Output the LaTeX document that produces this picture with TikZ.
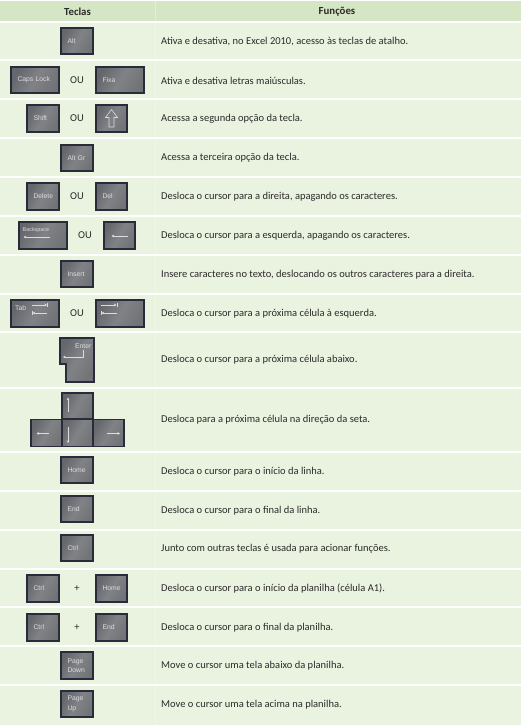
\documentclass[tikz,border=0pt]{standalone}
\usepackage{fontspec}
\setmainfont{Carlito}
\newfontfamily\keyfont{Liberation Sans}
\usetikzlibrary{arrows.meta}
\definecolor{hdr}{HTML}{D4E6C3}
\definecolor{rowc}{HTML}{EAF2E0}
\definecolor{txt}{HTML}{2B2B2B}
\definecolor{keyA}{HTML}{65676C}
\definecolor{keyB}{HTML}{808286}
\definecolor{keyC}{HTML}{717377}
\definecolor{keyD}{HTML}{282C38}
\definecolor{keyL}{HTML}{DCDCDC}
\begin{document}
\begin{tikzpicture}[x=1pt,y=-1pt,
  keyshade/.style={draw=keyD, line width=1.2pt, left color=keyA, right color=keyC, middle color=keyB, shading angle=60},
  key/.style={keyshade, rectangle, inner xsep=6.5pt, inner ysep=0pt, align=left,
    font=\keyfont\fontsize{6.8}{9.5}\selectfont, text=keyL},
  kw32/.style={key, minimum width=32pt, text width=19pt},
  kw31/.style={key, minimum width=31pt, text width=18pt},
  kw48/.style={key, minimum width=48pt, text width=35pt},
  kh26/.style={minimum height=26pt},
  kh27/.style={minimum height=27pt},
  fn/.style={anchor=west, inner sep=0pt, text=txt, font=\fontsize{10.5}{12}\selectfont},
  hd/.style={inner sep=0pt, text=txt, font=\bfseries\fontsize{10.8}{12}\selectfont},
  ou/.style={inner sep=0pt, text=txt, font=\fontsize{10.5}{12}\selectfont},
  glyph/.style={draw=keyL, line width=0.7pt},
  garrow/.style={glyph, -{Stealth[length=2.6pt,width=2.6pt]}},
  lbl/.style={inner sep=0pt, text=keyL, font=\keyfont\fontsize{6.8}{8}\selectfont}
]
\useasboundingbox (0,0) rectangle (521,725);
\fill[white] (0,0) rectangle (521,725);
% header and rows
\fill[hdr] (0,1.5) rectangle (521,21.2);
\foreach \a/\b in {22/60.5, 60.5/99, 99/138, 138/177, 177/216, 216/255, 255/293.5, 293.5/332, 332/388, 388/452, 452/491, 491/530, 530/568.5, 568.5/607, 607/646, 646/685}
  \fill[rowc] (0,\a+1) rectangle (521,\b-1);
\fill[rowc] (0,686) rectangle (521,725);
\draw[white, opacity=0.35, line width=0.6pt] (155,0) -- (155,725);

\node[hd] (h1) at (77.5,12) {Teclas};
\node[hd] (h2) at (337,12) {Funções};

% row 1
\node[kw32,kh26] (alt) at (77,41) {Alt};
\node[fn] (t1) at (161,41.5) {Ativa e desativa, no Excel 2010, acesso às teclas de atalho.};
% row 2
\node[kw48,kh26] (caps) at (35,80) {Caps Lock};
\node[ou] (ou2) at (77,80) {OU};
\node[kw48,kh26] (fixa) at (120,80) {Fixa};
\node[fn] (t2) at (161,80.5) {Ativa e desativa letras maiúsculas.};
% row 3
\node[kw32,kh27] (shift) at (43,118.5) {Shift};
\node[ou] (ou3) at (77,118.5) {OU};
\node[kw31,kh27] (shiftb) at (111.5,118.5) {};
\draw[draw=keyL, line width=0.6pt, line join=miter] (111.5,109.5) -- (117.5,117.5) -- (114,117.5) -- (114,127) -- (109,127) -- (109,117.5) -- (105.5,117.5) -- cycle;
\node[fn] (t3) at (161,119) {Acessa a segunda opção da tecla.};
% row 4
\node[kw32,kh26] (altgr) at (77,158) {Alt Gr};
\node[fn] (t4) at (161,158) {Acessa a terceira opção da tecla.};
% row 5
\node[kw32,kh27] (delete) at (43,196.5) {Delete};
\node[ou] (ou5) at (77,196.5) {OU};
\node[kw31,kh27] (del) at (111.5,196.5) {Del};
\node[fn] (t5) at (161,197) {Desloca o cursor para a direita, apagando os caracteres.};
% row 6
\node[kw48,kh27] (bksp) at (43,235.5) {};
\node[lbl, anchor=west, font=\keyfont\fontsize{5.4}{6}\selectfont] (bksplbl) at (22.5,230) {Backspace};
\draw[garrow] (50,237) -- (23.5,237);
\node[ou] (ou6) at (85,235.5) {OU};
\node[kw31,kh27] (bkspb) at (119.5,235.5) {};
\draw[garrow] (128,236) -- (111.5,236);
\node[fn] (t6) at (161,236) {Desloca o cursor para a esquerda, apagando os caracteres.};
% row 7
\node[kw32,kh26] (insert) at (77,274) {Insert};
\node[fn] (t7) at (161,274.5) {Insere caracteres no texto, deslocando os outros caracteres para a direita.};
% row 8
\node[kw48,kh27] (tab) at (35,313.5) {};
\node[lbl, anchor=west] (tablbl) at (15,308.5) {Tab};
\draw[garrow] (32,305) -- (47,305);
\draw[glyph] (47.6,302.8) -- (47.6,307.2);
\draw[garrow] (47,313) -- (32.5,313);
\draw[glyph] (31.9,310.8) -- (31.9,315.2);
\node[ou] (ou8) at (77,313.5) {OU};
\node[kw48,kh27] (tabb) at (120,313.5) {};
\draw[garrow] (101,305) -- (116.5,305);
\draw[glyph] (117.1,302.8) -- (117.1,307.2);
\draw[garrow] (116.5,313) -- (101.5,313);
\draw[glyph] (100.9,310.8) -- (100.9,315.2);
\node[fn] (t8) at (161,313.5) {Desloca o cursor para a próxima célula à esquerda.};
% row 9 enter
\path[keyshade] (60,338) -- (94,338) -- (94,382) -- (66,382) -- (66,364) -- (60,364) -- cycle;
\node[lbl, anchor=east] (enterlbl) at (91.5,346.5) {Enter};
\draw[glyph, line join=miter, -{Stealth[length=2.6pt,width=2.6pt]}] (83,350) -- (83,357) -- (63,357);
\node[fn] (t9) at (161,360) {Desloca o cursor para a próxima célula abaixo.};
% row 10 arrows
\node[kw31,kh26] (up) at (77.5,406) {};
\node[kw31,kh27] (left) at (46.5,433) {};
\node[kw31,kh27] (down) at (77.5,433) {};
\node[kw31,kh27] (right) at (108.5,433) {};
\draw[garrow] (68,412) -- (68,397.5);
\draw[garrow] (68,427) -- (68,443);
\draw[garrow] (48.5,433.5) -- (36.5,433.5);
\draw[garrow] (107,433.5) -- (120,433.5);
\node[fn] (t10) at (161,420) {Desloca para a próxima célula na direção da seta.};
% row 11
\node[kw32,kh26] (home) at (77,470) {Home};
\node[fn] (t11) at (161,471.5) {Desloca o cursor para o início da linha.};
% row 12
\node[kw32,kh26] (end) at (77,509) {End};
\node[fn] (t12) at (161,510.5) {Desloca o cursor para o final da linha.};
% row 13
\node[kw32,kh26] (ctrl) at (77,548) {Ctrl};
\node[fn] (t13) at (161,549) {Junto com outras teclas é usada para acionar funções.};
% row 14
\node[kw32,kh27] (ctrla) at (43,588.5) {Ctrl};
\node[ou] (plus14) at (77,588.5) {+};
\node[kw31,kh27] (homea) at (111.5,588.5) {Home};
\node[fn] (t14) at (161,588.5) {Desloca o cursor para o início da planilha (célula A1).};
% row 15
\node[kw32,kh27] (ctrlb) at (43,627.5) {Ctrl};
\node[ou] (plus15) at (77,627.5) {+};
\node[kw31,kh27] (endb) at (111.5,627.5) {End};
\node[fn] (t15) at (161,627.5) {Desloca o cursor para o final da planilha.};
% row 16
\node[kw32,kh27] (pgdn) at (77,665.5) {Page\\Down};
\node[fn] (t16) at (161,665.5) {Move o cursor uma tela abaixo da planilha.};
% row 17
\node[kw32,kh26] (pgup) at (77,704) {Page\\Up};
\node[fn] (t17) at (161,705) {Move o cursor uma tela acima na planilha.};
\end{tikzpicture}
\end{document}
